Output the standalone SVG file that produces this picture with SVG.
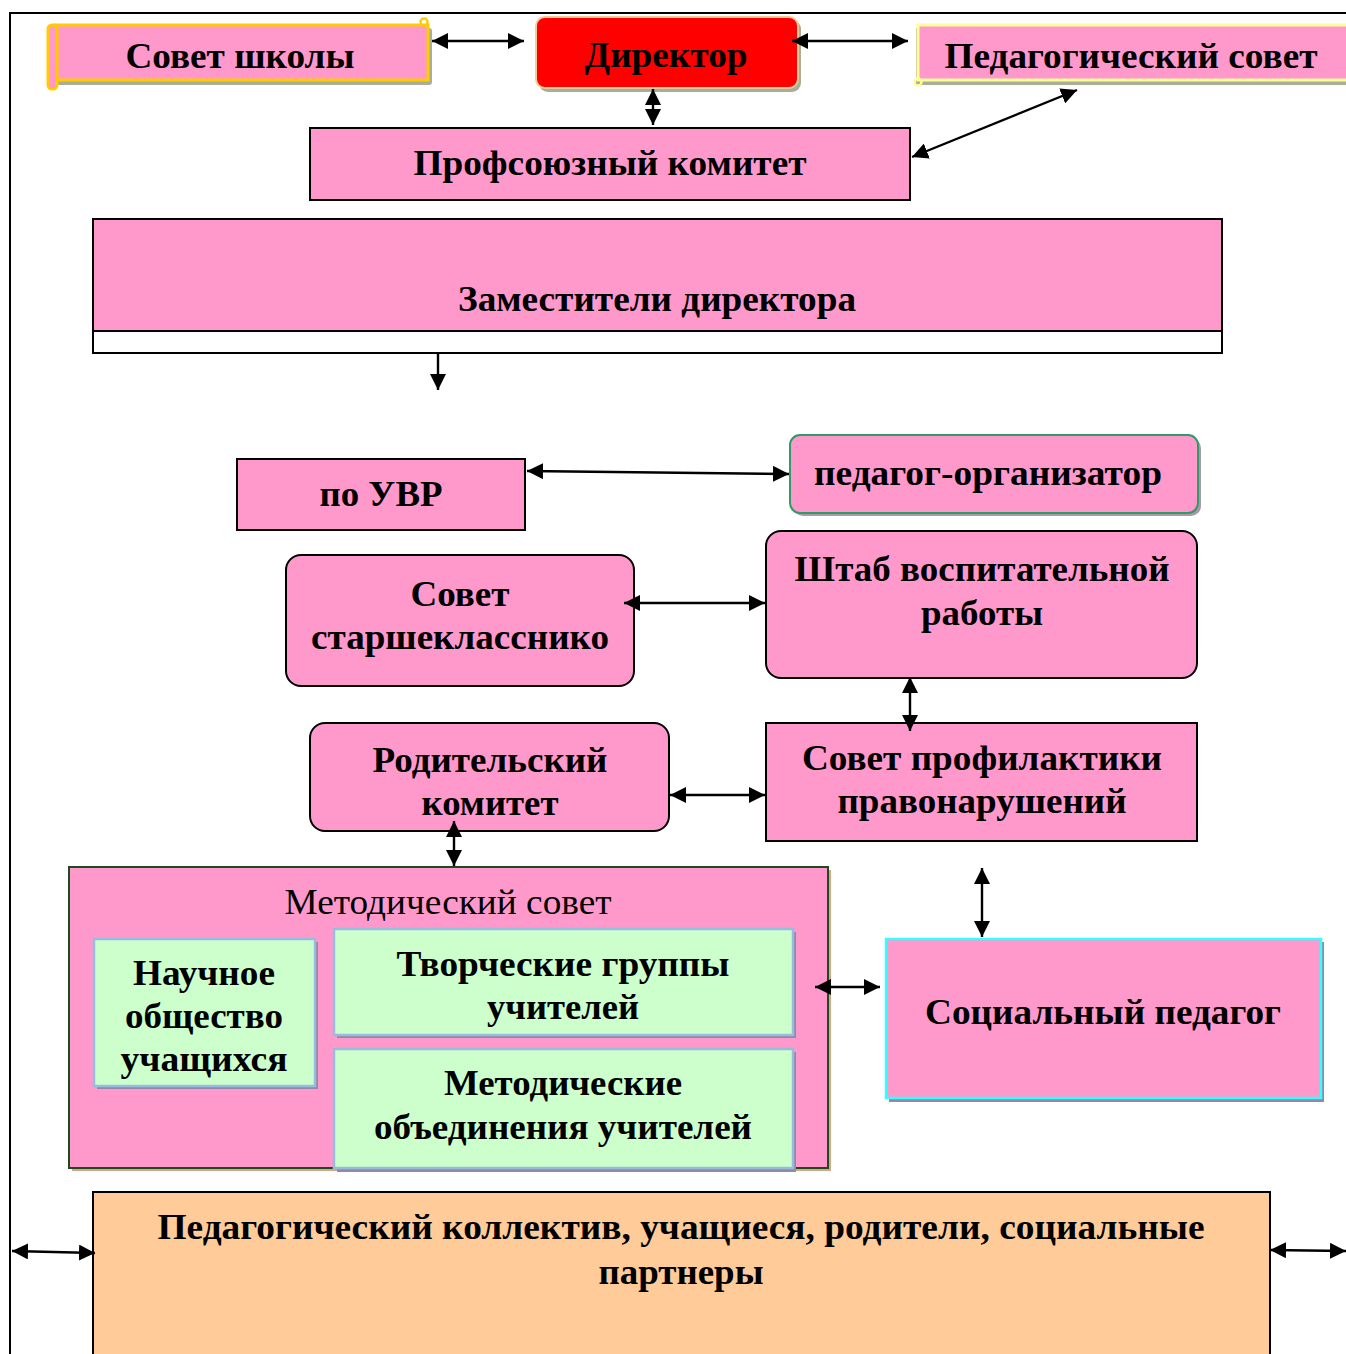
<svg xmlns="http://www.w3.org/2000/svg" width="1346" height="1354" viewBox="0 0 1346 1354">
<style>
.t{font-family:"Liberation Serif","Times New Roman",serif;font-weight:bold;font-size:36px;fill:#000;text-anchor:middle}
.r{font-family:"Liberation Serif","Times New Roman",serif;font-weight:normal;font-size:36px;fill:#000;text-anchor:middle}
.pk{fill:#FF99CC;stroke:#000;stroke-width:2}
.gr{fill:#CCFFCC;stroke:#99BBDD;stroke-width:2.5}
.sh{fill:#8F8AA8}
.c{stroke:#000;stroke-width:2.4;fill:none;marker-start:url(#ah);marker-end:url(#ah)}
.c1{stroke:#000;stroke-width:2.4;fill:none;marker-end:url(#ah)}
</style>
<defs>
<marker id="ah" markerUnits="userSpaceOnUse" markerWidth="18" markerHeight="16" refX="16" refY="8" orient="auto-start-reverse">
<path d="M0,0 L16,8 L0,16 z" fill="#000"/>
</marker>
</defs>
<rect width="1346" height="1354" fill="#fff"/>
<g id="frame" stroke="#000" stroke-width="2" fill="none">
<path d="M10,1354 L10,13 L1346,13"/>
</g>

<g id="sovet-shkoly">
<rect x="52" y="28" width="380" height="57" rx="3" fill="#A8AE98"/>
<rect x="55" y="25" width="373" height="55" fill="#FF99CC" stroke="#FFCC00" stroke-width="3"/>
<circle cx="424" cy="22" r="3.5" fill="none" stroke="#FFCC00" stroke-width="2.5"/>
<rect x="48" y="25" width="9" height="64" rx="4" fill="#FF99CC" stroke="#FFCC00" stroke-width="3"/>
<text class="t" x="240" y="68" textLength="229" lengthAdjust="spacingAndGlyphs">Совет школы</text>
</g>

<g id="direktor">
<rect x="539" y="20" width="262" height="72" rx="9" fill="#A8AE98"/>
<rect x="536" y="17" width="262" height="71" rx="9" fill="#FF0000" stroke="#F2CC99" stroke-width="2"/>
<text class="t" x="666" y="67" textLength="163" lengthAdjust="spacingAndGlyphs">Директор</text>
</g>

<g id="ped-sovet">
<rect x="916" y="28" width="432" height="57" fill="#A8AE98"/>
<rect x="918" y="25" width="430" height="55" fill="#FF99CC" stroke="#FFFF99" stroke-width="3"/>
<circle cx="918" cy="82" r="3.5" fill="none" stroke="#FFFF99" stroke-width="2.5"/>
<text class="t" x="1131" y="68" textLength="373" lengthAdjust="spacingAndGlyphs">Педагогический совет</text>
</g>

<g id="profsoyuz">
<rect class="pk" x="310" y="128" width="600" height="72"/>
<text class="t" x="610" y="175" textLength="393" lengthAdjust="spacingAndGlyphs">Профсоюзный комитет</text>
</g>

<g id="zamestiteli">
<rect x="93" y="219" width="1129" height="134" fill="#fff" stroke="#000" stroke-width="2"/>
<rect class="pk" x="93" y="219" width="1129" height="112"/>
<text class="t" x="657" y="311" textLength="398" lengthAdjust="spacingAndGlyphs">Заместители директора</text>
</g>

<g id="po-uvr">
<rect class="pk" x="237" y="459" width="288" height="71"/>
<text class="t" x="381" y="506" textLength="123" lengthAdjust="spacingAndGlyphs">по УВР</text>
</g>

<g id="ped-org">
<rect x="793" y="438" width="408" height="78" rx="10" fill="#A89AA8"/>
<rect x="790" y="435" width="408" height="78" rx="10" fill="#FF99CC" stroke="#339966" stroke-width="2"/>
<text class="t" x="988" y="485" textLength="348" lengthAdjust="spacingAndGlyphs">педагог-организатор</text>
</g>

<g id="sovet-starsh">
<rect class="pk" x="286" y="555" width="348" height="131" rx="15"/>
<text class="t" x="460" y="606" textLength="99" lengthAdjust="spacingAndGlyphs">Совет</text>
<text class="t" x="460" y="649" textLength="298" lengthAdjust="spacingAndGlyphs">старшекласснико</text>
</g>

<g id="shtab">
<rect class="pk" x="766" y="531" width="431" height="147" rx="15"/>
<text class="t" x="982" y="581" textLength="375" lengthAdjust="spacingAndGlyphs">Штаб воспитательной</text>
<text class="t" x="982" y="625" textLength="122" lengthAdjust="spacingAndGlyphs">работы</text>
</g>

<g id="roditel">
<rect class="pk" x="310" y="723" width="359" height="108" rx="15"/>
<text class="t" x="490" y="772" textLength="235" lengthAdjust="spacingAndGlyphs">Родительский</text>
<text class="t" x="490" y="815" textLength="137" lengthAdjust="spacingAndGlyphs">комитет</text>
</g>

<g id="profilaktika">
<rect class="pk" x="766" y="723" width="431" height="118"/>
<text class="t" x="982" y="770" textLength="360" lengthAdjust="spacingAndGlyphs">Совет профилактики</text>
<text class="t" x="982" y="813" textLength="289" lengthAdjust="spacingAndGlyphs">правонарушений</text>
</g>

<g id="metod-sovet">
<rect x="72" y="870" width="759" height="301" fill="#D2A88A"/>
<rect x="69" y="867" width="759" height="301" fill="#FF99CC" stroke="#1E4A1E" stroke-width="2"/>
<text class="r" x="448" y="914" textLength="327" lengthAdjust="spacingAndGlyphs">Методический совет</text>
</g>

<g id="nauchnoe">
<rect class="sh" x="97" y="942" width="221" height="147"/>
<rect class="gr" x="94" y="939" width="221" height="147"/>
<text class="t" x="204" y="985" textLength="142" lengthAdjust="spacingAndGlyphs">Научное</text>
<text class="t" x="204" y="1028" textLength="158" lengthAdjust="spacingAndGlyphs">общество</text>
<text class="t" x="204" y="1071" textLength="167" lengthAdjust="spacingAndGlyphs">учащихся</text>
</g>

<g id="tvorcheskie">
<rect class="sh" x="337" y="932" width="459" height="106"/>
<rect class="gr" x="334" y="929" width="459" height="106"/>
<text class="t" x="563" y="976" textLength="333" lengthAdjust="spacingAndGlyphs">Творческие группы</text>
<text class="t" x="563" y="1019" textLength="152" lengthAdjust="spacingAndGlyphs">учителей</text>
</g>

<g id="metod-obed">
<rect class="sh" x="337" y="1052" width="459" height="120"/>
<rect class="gr" x="334" y="1049" width="459" height="119"/>
<text class="t" x="563" y="1095" textLength="238" lengthAdjust="spacingAndGlyphs">Методические</text>
<text class="t" x="563" y="1139" textLength="378" lengthAdjust="spacingAndGlyphs">объединения учителей</text>
</g>

<g id="soc-pedagog">
<rect class="sh" x="889" y="942" width="435" height="160"/>
<rect x="886" y="939" width="435" height="159" fill="#FF99CC" stroke="#33FFFF" stroke-width="2.5"/>
<text class="t" x="1103" y="1024" textLength="356" lengthAdjust="spacingAndGlyphs">Социальный педагог</text>
</g>

<g id="kollektiv">
<rect x="93" y="1192" width="1177" height="170" fill="#FFCC99" stroke="#000" stroke-width="2"/>
<text class="t" x="681" y="1239" textLength="1047" lengthAdjust="spacingAndGlyphs">Педагогический коллектив, учащиеся, родители, социальные</text>
<text class="t" x="681" y="1284" textLength="165" lengthAdjust="spacingAndGlyphs">партнеры</text>
</g>

<g id="connectors">
<line class="c" x1="432" y1="41" x2="524" y2="41"/>
<line class="c" x1="792" y1="41" x2="908" y2="41"/>
<line class="c" x1="653" y1="89" x2="653" y2="125"/>
<line class="c" x1="912" y1="157" x2="1077" y2="90"/>
<line class="c1" x1="438" y1="353" x2="438" y2="390"/>
<line class="c" x1="527" y1="471" x2="789" y2="474"/>
<line class="c" x1="624" y1="603" x2="765" y2="603"/>
<line class="c" x1="910" y1="677" x2="910" y2="731"/>
<line class="c" x1="670" y1="795" x2="765" y2="795"/>
<line class="c" x1="454" y1="821" x2="454" y2="866"/>
<line class="c" x1="982" y1="868" x2="982" y2="937"/>
<line class="c" x1="815" y1="987" x2="880" y2="987"/>
<line class="c" x1="12" y1="1251" x2="95" y2="1253"/>
<line class="c" x1="1270" y1="1250" x2="1346" y2="1251"/>
</g>
</svg>
